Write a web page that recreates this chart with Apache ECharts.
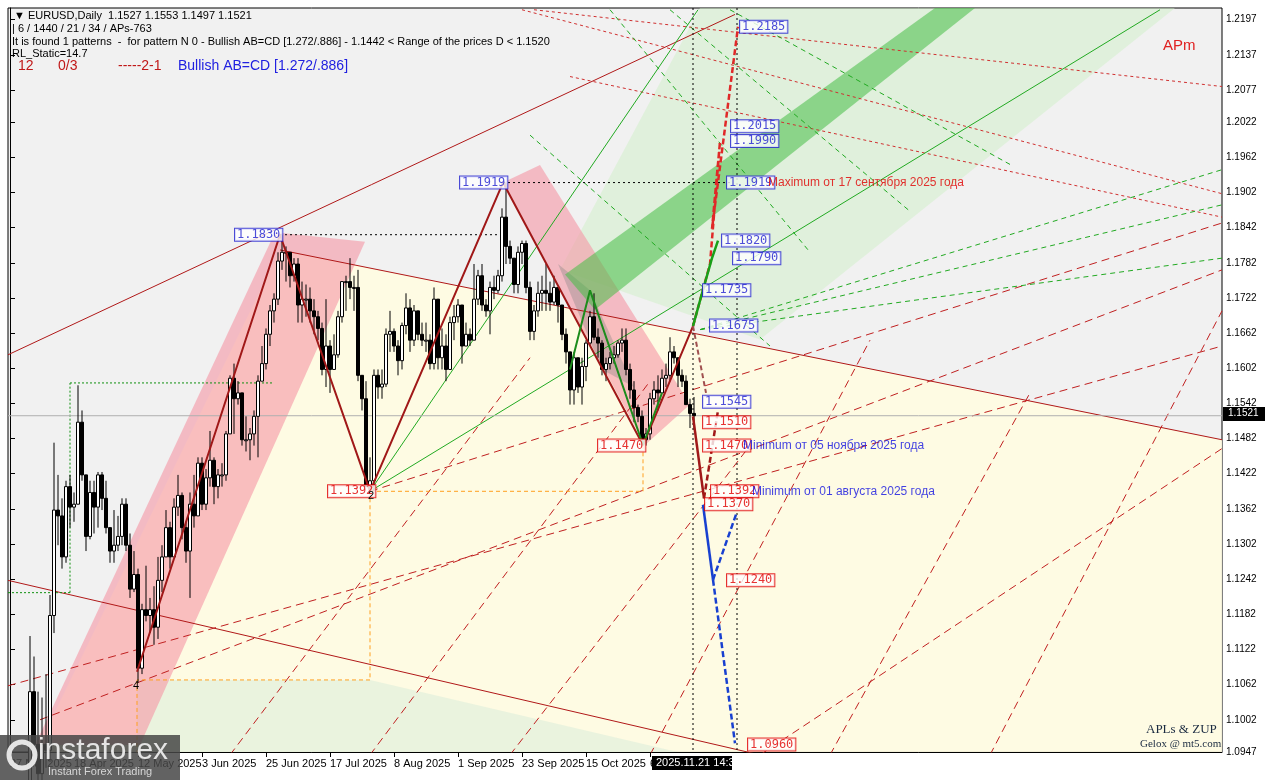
<!DOCTYPE html>
<html>
<head>
<meta charset="utf-8">
<script src="https://cdn.jsdelivr.net/npm/echarts@6/dist/echarts.min.js"></script>
<style>html,body{margin:0;padding:0;background:#fff}#main{width:1269px;height:780px}</style>
</head>
<body>
<div id="main"></div>
<script>
// EURUSD daily, bars from 27 Mar 2025 to 21 Nov 2025 (bar index = x)
var startOpen = 1.0770
var closes = [1.0800,1.0830,
 1.0815,1.0790,1.0850,1.1050,1.0960, 1.0910,1.0960,1.0950,1.1180,1.1360, 1.1350,1.1280,1.1400,1.1365,1.1370,
 1.1510,1.1420,1.1315,1.1390,1.1365, 1.1420,1.1380,1.1330,1.1290,1.1300, 1.1315,1.1370,1.1300,1.1225,1.1250,
 1.1090,1.1190,1.1180,1.1190,1.1160, 1.1240,1.1280,1.1330,1.1280,1.1365, 1.1385,1.1330,1.1290,1.1370,1.1350,
 1.1440,1.1370,1.1415,1.1445,1.1400, 1.1420,1.1420,1.1490,1.1585,1.1550, 1.1560,1.1480,1.1480,1.1490,1.1520,
 1.1580,1.1610,1.1660,1.1700,1.1720, 1.1785,1.1800,1.1800,1.1760,1.1780, 1.1710,1.1720,1.1720,1.1700,1.1690,
 1.1670,1.1600,1.1640,1.1600,1.1625, 1.1690,1.1750,1.1750,1.1740,1.1740, 1.1590,1.1550,1.1400,1.1410,1.1590,
 1.1570,1.1575,1.1660,1.1665,1.1640, 1.1615,1.1675,1.1705,1.1650,1.1700, 1.1660,1.1650,1.1650,1.1610,1.1720,
 1.1620,1.1640,1.1600,1.1680,1.1690, 1.1710,1.1640,1.1660,1.1650,1.1720, 1.1760,1.1710,1.1700,1.1740,1.1735,
 1.1760,1.1860,1.1810,1.1790,1.1745, 1.1800,1.1815,1.1740,1.1665,1.1700, 1.1730,1.1735,1.1730,1.1715,1.1740,
 1.1710,1.1660,1.1630,1.1565,1.1620, 1.1570,1.1605,1.1645,1.1690,1.1655, 1.1645,1.1600,1.1610,1.1620,1.1625,
 1.1645,1.1650,1.1600,1.1565,1.1535, 1.1520,1.1480,1.1490,1.1550,1.1565, 1.1560,1.1585,1.1590,1.1630,1.1620,
 1.1590,1.1580,1.1540,1.1525,1.1521]
var highs = [1.0820,1.0860,
 1.0850,1.0830,1.0880,1.1145,1.1110, 1.1050,1.1040,1.1080,1.1215,1.1475, 1.1420,1.1380,1.1410,1.1420,1.1390,
 1.1573,1.1530,1.1420,1.1410,1.1410, 1.1425,1.1425,1.1410,1.1330,1.1360, 1.1350,1.1380,1.1380,1.1320,1.1290,
 1.1260,1.1200,1.1265,1.1210,1.1230, 1.1280,1.1300,1.1360,1.1340,1.1380, 1.1420,1.1390,1.1340,1.1390,1.1420,
 1.1450,1.1450,1.1430,1.1495,1.1450, 1.1430,1.1440,1.1495,1.1590,1.1610, 1.1580,1.1560,1.1520,1.1500,1.1530,
 1.1590,1.1640,1.1670,1.1710,1.1730, 1.1800,1.1830,1.1810,1.1790,1.1790, 1.1790,1.1750,1.1745,1.1740,1.1720,
 1.1700,1.1680,1.1720,1.1650,1.1660, 1.1700,1.1750,1.1760,1.1790,1.1760, 1.1770,1.1590,1.1580,1.1450,1.1600,
 1.1600,1.1600,1.1670,1.1700,1.1670, 1.1650,1.1680,1.1730,1.1720,1.1710, 1.1700,1.1680,1.1680,1.1660,1.1740,
 1.1720,1.1670,1.1660,1.1690,1.1710, 1.1720,1.1710,1.1680,1.1670,1.1780, 1.1770,1.1780,1.1720,1.1750,1.1760,
 1.1770,1.1875,1.1919,1.1820,1.1790, 1.1810,1.1820,1.1820,1.1750,1.1710, 1.1750,1.1760,1.1780,1.1750,1.1760,
 1.1740,1.1710,1.1670,1.1630,1.1630, 1.1610,1.1620,1.1650,1.1700,1.1730, 1.1670,1.1650,1.1620,1.1630,1.1640,
 1.1650,1.1670,1.1670,1.1610,1.1580, 1.1540,1.1530,1.1500,1.1560,1.1580, 1.1590,1.1600,1.1610,1.1655,1.1640,
 1.1610,1.1600,1.1590,1.1550,1.1553]
var lows = [1.0740,1.0780,
 1.0770,1.0770,1.0780,1.0840,1.0950, 1.0880,1.0890,1.0920,1.0930,1.1150, 1.1300,1.1260,1.1270,1.1330,1.1340,
 1.1370,1.1410,1.1290,1.1310,1.1320, 1.1330,1.1360,1.1320,1.1270,1.1270, 1.1290,1.1300,1.1290,1.1210,1.1220,
 1.1065,1.1080,1.1170,1.1150,1.1130, 1.1140,1.1220,1.1280,1.1260,1.1280, 1.1350,1.1310,1.1270,1.1210,1.1330,
 1.1350,1.1360,1.1360,1.1400,1.1370, 1.1380,1.1400,1.1410,1.1490,1.1490, 1.1540,1.1470,1.1460,1.1445,1.1470,
 1.1450,1.1590,1.1600,1.1640,1.1680, 1.1710,1.1770,1.1750,1.1740,1.1750, 1.1680,1.1680,1.1690,1.1680,1.1660,
 1.1650,1.1590,1.1570,1.1560,1.1600, 1.1620,1.1680,1.1700,1.1720,1.1700, 1.1580,1.1530,1.1400,1.1390,1.1392,
 1.1550,1.1550,1.1570,1.1630,1.1630, 1.1590,1.1600,1.1660,1.1630,1.1640, 1.1650,1.1640,1.1630,1.1600,1.1600,
 1.1600,1.1600,1.1580,1.1600,1.1650, 1.1680,1.1610,1.1640,1.1640,1.1650, 1.1710,1.1700,1.1690,1.1660,1.1720,
 1.1730,1.1750,1.1780,1.1780,1.1730, 1.1730,1.1780,1.1730,1.1650,1.1650, 1.1690,1.1700,1.1700,1.1700,1.1710,
 1.1680,1.1650,1.1610,1.1540,1.1540, 1.1560,1.1540,1.1580,1.1640,1.1650, 1.1620,1.1590,1.1580,1.1600,1.1610,
 1.1620,1.1630,1.1590,1.1550,1.1510, 1.1510,1.1470,1.1470,1.1480,1.1540, 1.1530,1.1560,1.1570,1.1580,1.1610,
 1.1570,1.1570,1.1540,1.1500,1.1497]

var dateTicks = [0,16,32,48,64,80,96,112,128,144,160]
var dateLabels = ['27 Mar 2025','18 Apr 2025','12 May 2025','3 Jun 2025','25 Jun 2025','17 Jul 2025','8 Aug 2025','1 Sep 2025','23 Sep 2025','15 Oct 2025','6 Nov 2025']
var priceTicks = [1.2197,1.2137,1.2077,1.2022,1.1962,1.1902,1.1842,1.1782,1.1722,1.1662,1.1602,1.1542,1.1482,1.1422,1.1362,1.1302,1.1242,1.1182,1.1122,1.1062,1.1002,1.0947]
var lastPrice = 1.1521

// drawing objects, points are [bar, price]
var zigzag = [[31.75,1.1084],[67.5,1.1830],[90,1.1392],[123.25,1.1919],[158.25,1.1471],[170.75,1.1674]]
var greenPattern = [[140,1.1600],[145,1.1735],[158.25,1.1471],[163,1.1560]]
var redUpPath = [[170.75,1.1674],[175,1.1780],[177.5,1.1989],[175.5,1.1840],[182,1.2185]]
var greenUpPath = [[170.75,1.1674],[173.25,1.1736],[175.5,1.1790],[177,1.1820]]
var brownDashPath = [[170.75,1.1674],[174,1.1560]]
var redDownSolid = [[170.75,1.1520],[173.5,1.1380]]
var redDownDash = [[173.5,1.1380],[177,1.1530]]
var blueSolid = [[173.25,1.1369],[175.75,1.1241]]
var blueDash1 = [[175.75,1.1241],[181.25,1.0962]]
var blueDash2 = [[175.75,1.1241],[181.75,1.1357]]
var darkRedLines = [
 [[-0.5,1.1625],[181.25,1.2206]],
 [[67.5,1.1804],[303,1.1480]],
 [[-0.5,1.1240],[187.5,1.0942]]
]
var redDashLines = [
 [[7.5,1.1002],[303,1.1770]],
 [[90,1.1392],[303,1.1850]],
 [[-0.5,1.1060],[303,1.1640]],
 [[187.5,1.0942],[303,1.1465]],
 [[55,1.0942],[130,1.1620]],
 [[90,1.0942],[160,1.1580]],
 [[125,1.0942],[185,1.1470]],
 [[160,1.0942],[215,1.1650]],
 [[205,1.0942],[255,1.1560]],
 [[245,1.0942],[303,1.1700]]
]
var redDotLines = [
 [[131,1.2214],[303,1.2083]],
 [[140,1.2100],[303,1.1860]],
 [[128,1.2214],[303,1.1900]]
]
var greenSolidLines = [
 [[90,1.1392],[172,1.2214]],
 [[90,1.1392],[287.5,1.2214]]
]
var greenDashLines = [
 [[172.5,1.1668],[303,1.1941]],
 [[172.5,1.1668],[303,1.1881]],
 [[172.5,1.1668],[303,1.1790]],
 [[130,1.2000],[190,1.1640]],
 [[150,1.2214],[200,1.1800]],
 [[165,1.2214],[225,1.1870]],
 [[180,1.2214],[250,1.1950]]
]
var blackDotLines = [
 [[67.5,1.1830],[123,1.1830]],
 [[123.25,1.1919],[180,1.1919]],
 [[170.75,1.2217],[170.75,1.0942]],
 [[181.75,1.2217],[181.75,1.0942]]
]
var orangeDashLines = [
 [[90,1.1392],[158.25,1.1392]],
 [[158.25,1.1392],[158.25,1.1471]],
 [[90,1.1392],[90,1.1070]],
 [[90,1.1070],[31.75,1.1070]],
 [[31.75,1.1070],[31.75,1.0942]]
]
var greenDotLines = [
 [[-0.5,1.1219],[15,1.1219]],
 [[15,1.1219],[15,1.1577]],
 [[15,1.1577],[66,1.1577]]
]
var zones = [
 {pts: [[67.5,1.1804],[303,1.1480],[303,1.0942],[6,1.0942]], color: 'rgba(255,252,225,0.9)'},
 {pts: [[31.75,1.1070],[90,1.1070],[170,1.0942],[31.75,1.0942]], color: 'rgba(225,240,220,0.7)'},
 {pts: [[137.5,1.1770],[172.5,1.2217],[291.25,1.2217],[187.5,1.1651]], color: 'rgba(205,240,195,0.45)'},
 {pts: [[6.25,1.0959],[66.25,1.1834],[88.75,1.1818],[32.5,1.0959]], color: 'rgba(245,150,165,0.6)'},
 {pts: [[123.25,1.1919],[132.5,1.1949],[170,1.1540],[158.75,1.1471]], color: 'rgba(245,150,165,0.6)'},
 {pts: [[137,1.1780],[145,1.1735],[156,1.1570],[148,1.1600]], color: 'rgba(130,130,130,0.35)'},
 {pts: [[138.75,1.1762],[231.25,1.2217],[241.25,1.2217],[146.25,1.1702]], color: 'rgba(70,190,70,0.55)'}
]
var boxes = [
 [56.25,1.1830,'1.1830','#2020d0'],[112.5,1.1919,'1.1919','#2020d0'],
 [79.5,1.1392,'1.1392','#e00000'],[147,1.1470,'1.1470','#e00000'],
 [182.5,1.2185,'1.2185','#2020d0'],[180.25,1.2015,'1.2015','#2020d0'],[180.25,1.1990,'1.1990','#2020d0'],
 [179.25,1.1919,'1.1919','#2020d0'],[178,1.1820,'1.1820','#2020d0'],[180.75,1.1790,'1.1790','#2020d0'],
 [173.25,1.1735,'1.1735','#2020d0'],[175,1.1675,'1.1675','#2020d0'],[173.25,1.1545,'1.1545','#2020d0'],
 [173.25,1.1510,'1.1510','#e00000'],[173.25,1.1470,'1.1470','#e00000'],[175.25,1.1392,'1.1392','#e00000'],
 [173.75,1.1370,'1.1370','#e00000'],[179.25,1.1240,'1.1240','#e00000'],[184.5,1.0960,'1.0960','#e00000']
]
var notes = [
 [189.5,1.1919,'Maximum от 17 сентября 2025 года','#e00000'],
 [183.25,1.1470,'Minimum от 05 ноября 2025 года','#1010e0'],
 [185.5,1.1392,'Minimum от 01 августа 2025 года','#1010e0']
]

var candles = closes.map(function(c, i){
  return [i, i === 0 ? startOpen : closes[i-1], c, lows[i], highs[i]]
})

function lineSeries(pts, color, width, type, z){
  return {type:'line', data:pts, symbol:'none', silent:true, z:z||3, animation:false, clip:true,
    lineStyle:{color:color, width:width, type:type}}
}

var series = []
zones.forEach(function(zn){
  series.push({type:'custom', z:1, silent:true, animation:false, clip:true, data:[0],
    renderItem:function(params, api){
      return {type:'polygon', shape:{points: zn.pts.map(function(p){return api.coord(p)})}, style:{fill: zn.color}}
    }})
})
darkRedLines.forEach(function(p){series.push(lineSeries(p,'#b01818',1,'solid'))})
redDashLines.forEach(function(p){series.push(lineSeries(p,'#c02020',1,[8,5]))})
redDotLines.forEach(function(p){series.push(lineSeries(p,'#d03030',1,[3,3]))})
greenSolidLines.forEach(function(p){series.push(lineSeries(p,'#22aa22',1,'solid'))})
greenDashLines.forEach(function(p){series.push(lineSeries(p,'#22aa22',1,[5,4]))})
blackDotLines.forEach(function(p){series.push(lineSeries(p,'#000',1,[2,3]))})
orangeDashLines.forEach(function(p){series.push(lineSeries(p,'#ffa020',1,[4,3]))})
greenDotLines.forEach(function(p){series.push(lineSeries(p,'#109010',1,[2,2]))})
series.push(lineSeries([[-0.5,lastPrice],[303,lastPrice]],'#b0b0b0',1,'solid'))

series.push({type:'custom', z:4, animation:false, data:candles,
  renderItem:function(params, api){
    var x = api.value(0), o = api.value(1), c = api.value(2)
    var pl = api.coord([x, api.value(3)]), ph = api.coord([x, api.value(4)])
    var po = api.coord([x, o]), pc = api.coord([x, c])
    var top = Math.min(po[1], pc[1]), h = Math.max(1, Math.abs(po[1]-pc[1]))
    return {type:'group', children:[
      {type:'line', shape:{x1:pl[0], y1:pl[1], x2:ph[0], y2:ph[1]}, style:{stroke:'#000', lineWidth:1}},
      {type:'rect', shape:{x:pl[0]-1.5, y:top, width:3, height:h}, style:{fill: c >= o ? '#fff' : '#000', stroke:'#000', lineWidth:1}}
    ]}
  }})

series.push(lineSeries(zigzag,'#a01818',2,'solid',5))
series.push(lineSeries(greenPattern,'#1c8c1c',2,'solid',5))
series.push(lineSeries(redUpPath,'#e02828',2.5,[6,3],5))
series.push(lineSeries(greenUpPath,'#18a018',2.5,'solid',5))
series.push(lineSeries(brownDashPath,'#a05050',2,[5,3],5))
series.push(lineSeries(redDownSolid,'#a01818',2.5,'solid',5))
series.push(lineSeries(redDownDash,'#a01818',2.5,[6,3],5))
series.push(lineSeries(blueSolid,'#1840d0',2.5,'solid',5))
series.push(lineSeries(blueDash1,'#1840d0',2.5,[6,3],5))
series.push(lineSeries(blueDash2,'#1840d0',2.5,[6,3],5))

series.push({type:'scatter', z:6, animation:false, symbolSize:0,
  data:boxes.map(function(b){
    return {value:[b[0],b[1]], label:{show:true, position:'right', distance:0, fontSize:12, fontFamily:'DejaVu Sans Mono',
      backgroundColor:'#fff', padding:[0,2], borderColor:b[3], borderWidth:1, color:b[3], formatter:b[2]}}
  })
})
series.push({type:'scatter', z:6, animation:false, symbolSize:0,
  data:notes.map(function(n){return {value:[n[0],n[1]], label:{show:true, position:'right', distance:0, color:n[3], formatter:n[2], fontSize:12, fontFamily:'Liberation Sans'}}})
})

var option = {
  backgroundColor:'#fff',
  animation:false,
  grid:{left:8, right:47, top:8, bottom:28, show:true, backgroundColor:'#f1f1f1', borderColor:'#000', borderWidth:1},
  xAxis:{type:'value', min:-0.5, max:303, splitLine:{show:false}, axisLine:{lineStyle:{color:'#000'}},
    axisTick:{customValues:dateTicks, lineStyle:{color:'#000'}},
    axisLabel:{customValues:dateTicks, color:'#000', fontSize:11, fontFamily:'Liberation Sans', align:'left', margin:6,
      formatter:function(v){return dateLabels[dateTicks.indexOf(v)] || ''}}},
  yAxis:{type:'value', position:'right', min:1.0947, max:1.2217, scale:true, splitLine:{show:false},
    axisLine:{show:true, lineStyle:{color:'#000'}},
    axisTick:{customValues:priceTicks, lineStyle:{color:'#000'}},
    axisLabel:{customValues:priceTicks, color:'#000', fontSize:10, fontFamily:'Liberation Sans', margin:4,
      formatter:function(v){return v.toFixed(4)}}},
  series:series,
  graphic:[
    {type:'text', z:100, left:14, top:10, style:{text:'▼ EURUSD,Daily  1.1527 1.1553 1.1497 1.1521', fontSize:11, fontFamily:'Liberation Sans', fill:'#000'}},
    {type:'text', z:100, left:12, top:23, style:{text:'| 6 / 1440 / 21 / 34 / APs-763', fontSize:11, fontFamily:'Liberation Sans', fill:'#000'}},
    {type:'text', z:100, left:12, top:36, style:{text:'It is found 1 patterns  -  for pattern N 0 - Bullish AB=CD [1.272/.886] - 1.1442 < Range of the prices D < 1.1520', fontSize:11, fontFamily:'Liberation Sans', fill:'#000'}},
    {type:'text', z:100, left:12, top:48, style:{text:'RL_Static=14.7', fontSize:11, fontFamily:'Liberation Sans', fill:'#000'}},
    {type:'text', z:100, left:18, top:59, style:{text:'12', fontSize:14, fontFamily:'Liberation Sans', fill:'#c01818'}},
    {type:'text', z:100, left:58, top:59, style:{text:'0/3', fontSize:14, fontFamily:'Liberation Sans', fill:'#c01818'}},
    {type:'text', z:100, left:118, top:59, style:{text:'-----2-1', fontSize:14, fontFamily:'Liberation Sans', fill:'#c01818'}},
    {type:'text', z:100, left:178, top:59, style:{text:'Bullish AB=CD [1.272/.886]', fontSize:14, fontFamily:'Liberation Sans', fill:'#2020e0'}},
    {type:'text', z:100, left:1163, top:38, style:{text:'APm', fontSize:15, fontFamily:'Liberation Sans', fill:'#e02020'}},
    {type:'text', z:100, left:1146, top:723, style:{text:'APLs & ZUP', fontSize:13, fontFamily:'Liberation Serif', fill:'#1a2a40', opacity:1}},
    {type:'text', z:100, left:1140, top:739, style:{text:'Gelox @ mt5.com', fontSize:11, fontFamily:'Liberation Serif', fill:'#1a2a40', opacity:1}},
    {type:'text', z:100, left:368, top:490, style:{text:'2', fontSize:11, fontFamily:'Liberation Sans', fill:'#000'}},
    {type:'text', z:100, left:133, top:680, style:{text:'4', fontSize:11, fontFamily:'Liberation Sans', fill:'#000'}},
    {type:'rect', z:100, left:1223, top:407, shape:{width:42, height:14}, style:{fill:'#000'}},
    {type:'text', z:101, left:1228, top:408, style:{text:'1.1521', fontSize:10, fontFamily:'Liberation Sans', fill:'#fff'}},
    {type:'rect', z:100, left:652, top:756, shape:{width:80, height:14}, style:{fill:'#000'}},
    {type:'text', z:101, left:656, top:757, style:{text:'2025.11.21 14:32', fontSize:11, fontFamily:'Liberation Sans', fill:'#fff'}},
    {type:'rect', z:100, left:0, top:735, shape:{width:180, height:45}, style:{fill:'rgba(70,70,70,0.85)'}},
    {type:'text', z:101, left:38, top:736, style:{text:'instaforex', fontSize:30, fontFamily:'Liberation Sans', fill:'rgba(235,235,235,0.95)'}},
    {type:'text', z:101, left:48, top:766, style:{text:'Instant Forex Trading', fontSize:11, fontFamily:'Liberation Sans', fill:'rgba(220,220,220,0.95)'}},
    {type:'circle', z:101, shape:{cx:22, cy:755, r:13}, style:{fill:'none', stroke:'rgba(235,235,235,0.95)', lineWidth:5}}
  ]
}
var myChart = echarts.init(document.getElementById('main'))
myChart.setOption(option)
</script>
</body>
</html>
